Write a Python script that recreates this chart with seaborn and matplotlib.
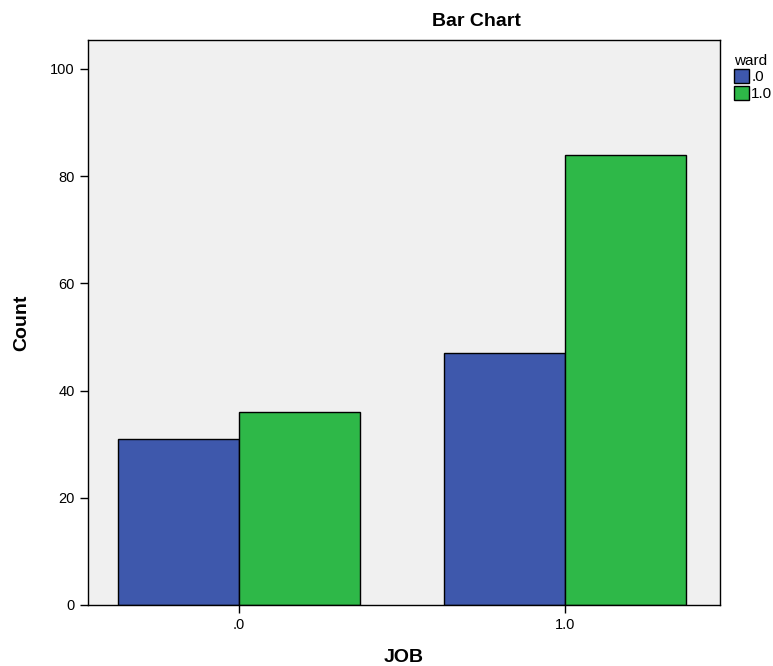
import pandas as pd
import seaborn as sns
import matplotlib.pyplot as plt

# counts
job = ['.0', '.0', '1.0', '1.0']
ward = ['.0', '1.0', '.0', '1.0']
count = [31, 36, 47, 84]

df = pd.DataFrame({'JOB': job, 'ward': ward, 'Count': count})

sns.set_style("white")
plt.rcParams['font.family'] = ['Liberation Sans', 'DejaVu Sans']
plt.rcParams['text.color'] = 'black'
plt.rcParams['axes.labelcolor'] = 'black'
plt.rcParams['xtick.color'] = 'black'
plt.rcParams['ytick.color'] = 'black'

fig = plt.figure(figsize=(7.73, 6.66), dpi=100)
ax = fig.add_axes([88/773, 61/666, 632/773, 565/666])
ax.set_facecolor('#f0f0f0')

sns.barplot(data=df, x='JOB', y='Count', hue='ward',
            palette=['#3e58ac', '#2eb848'], saturation=1, width=0.742, gap=0,
            edgecolor='black', linewidth=1, ax=ax)

ax.set_xlim(-0.463, 1.475)
ax.set_ylim(0, 105.4)
ax.set_yticks([0, 20, 40, 60, 80, 100])
ax.tick_params(axis='both', direction='out', length=6, width=1,
               labelsize=10.5, left=True, bottom=True)
for s in ax.spines.values():
    s.set_color('black')
    s.set_linewidth(1)

ax.set_xlabel('JOB', fontsize=14, fontweight='bold', labelpad=12)
ax.set_ylabel('Count', fontsize=14, fontweight='bold', labelpad=14)
fig.text(476/773, 1 - 22/666, 'Bar Chart', fontsize=14, fontweight='bold',
         ha='center', va='center')

leg = ax.legend(title='ward', loc='upper left', bbox_to_anchor=(1.0, 1.0),
                frameon=False, fontsize=11, title_fontsize=11,
                handlelength=1.0, handleheight=1.0, handletextpad=0.15,
                labelspacing=0.1, borderaxespad=0.5)
leg._legend_box.align = 'left'

fig.savefig('out.png', dpi=100)
